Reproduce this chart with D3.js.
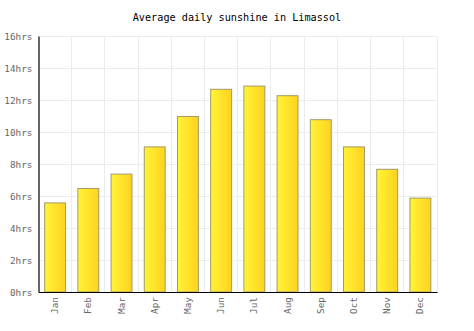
<!DOCTYPE html>
<html>
<head>
<meta charset="utf-8">
<script src="https://cdn.jsdelivr.net/npm/d3@7"></script>
<style>
  html, body { margin: 0; padding: 0; background: #fff; }
  svg { display: block; }
</style>
</head>
<body>
<svg id="chart" width="474" height="331"></svg>
<script>
// Average daily sunshine hours per month
const months = ["Jan", "Feb", "Mar", "Apr", "May", "Jun", "Jul", "Aug", "Sep", "Oct", "Nov", "Dec"];
const sunshineHours = [5.6, 6.5, 7.4, 9.1, 11.0, 12.7, 12.9, 12.3, 10.8, 9.1, 7.7, 5.9];
const yTicks = [0, 2, 4, 6, 8, 10, 12, 14, 16];
const titleText = "Average daily sunshine in Limassol";

const svg = d3.select("#chart");
const margin = { left: 38.5, right: 37, top: 36, bottom: 39 };
const W = 474, H = 331;
const iw = W - margin.left - margin.right;
const ih = H - margin.top - margin.bottom;
const font = "'DejaVu Sans Mono', monospace";

const defs = svg.append("defs");
const grad = defs.append("linearGradient").attr("id", "barFill")
  .attr("x1", "0%").attr("x2", "100%").attr("y1", "0%").attr("y2", "0%");
grad.append("stop").attr("offset", "0%").attr("stop-color", "#fff436");
grad.append("stop").attr("offset", "100%").attr("stop-color", "#ffd21f");

const x = d3.scaleBand().domain(months).range([0, iw]).paddingInner(0.34).paddingOuter(0.17);
const y = d3.scaleLinear().domain([0, 16]).range([ih, 0]);

svg.append("text")
  .attr("x", W / 2).attr("y", 21)
  .attr("text-anchor", "middle")
  .attr("font-family", font).attr("font-size", 10.2)
  .attr("fill", "#000")
  .text(titleText);

const g = svg.append("g").attr("transform", `translate(${margin.left},${margin.top})`);

// grid
const step = x.step();
const bounds = d3.range(months.length + 1).map(i => i * iw / months.length);
g.append("g").selectAll("line").data(bounds.slice(1)).join("line")
  .attr("x1", d => d).attr("x2", d => d).attr("y1", 0).attr("y2", ih)
  .attr("stroke", "#ececec").attr("stroke-width", 1).attr("shape-rendering", "crispEdges");
g.append("g").selectAll("line").data(yTicks.slice(1)).join("line")
  .attr("x1", 0).attr("x2", iw).attr("y1", d => y(d)).attr("y2", d => y(d))
  .attr("stroke", "#ececec").attr("stroke-width", 1).attr("shape-rendering", "crispEdges");

// bars
g.append("g").selectAll("rect").data(sunshineHours).join("rect")
  .attr("x", (d, i) => x(months[i]) + 0.5)
  .attr("y", d => y(d) + 0.5)
  .attr("width", x.bandwidth() - 1)
  .attr("height", d => ih - y(d) - 0.5)
  .attr("fill", "url(#barFill)")
  .attr("stroke", "#a39a6a").attr("stroke-width", 1);

// y axis
const yAxis = g.append("g").call(
  d3.axisLeft(y).tickValues(yTicks).tickFormat(d => d + "hrs").tickSize(0).tickPadding(6)
);
yAxis.select(".domain").attr("stroke", "#000").attr("stroke-width", 1.2);
yAxis.selectAll("text").attr("font-family", font).attr("font-size", 9.4).attr("fill", "#666");

// x axis
const xAxis = g.append("g").attr("transform", `translate(0,${ih})`).call(
  d3.axisBottom(x).tickSize(0).tickPadding(5)
);
xAxis.select(".domain").attr("stroke", "#000").attr("stroke-width", 1.2);
xAxis.selectAll("text")
  .attr("font-family", font).attr("font-size", 9.4).attr("fill", "#666")
  .attr("text-anchor", "end")
  .attr("transform", "rotate(-90)")
  .attr("x", -5).attr("y", 0).attr("dy", "0.32em");
</script>
</body>
</html>
